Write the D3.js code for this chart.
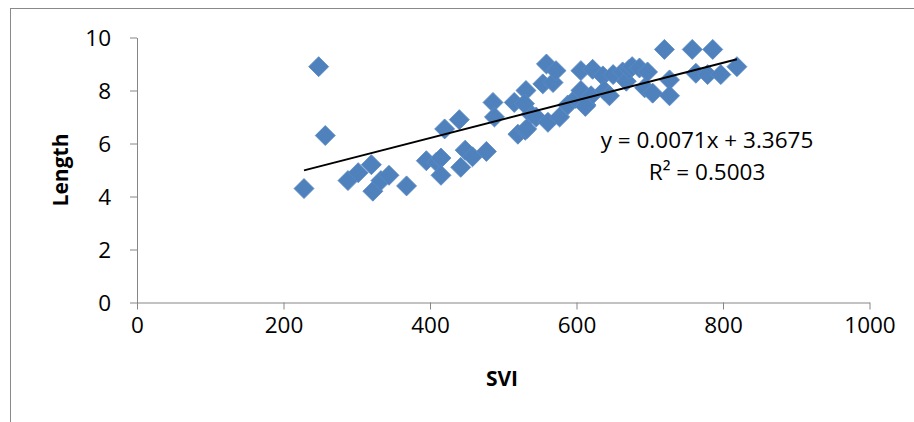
<!DOCTYPE html>
<html lang="en">
<head>
  <meta charset="utf-8">
  <title>SVI vs Length</title>
  <script src="https://cdn.jsdelivr.net/npm/d3@7"></script>
  <style>
    * { margin: 0; padding: 0; }
    body { background: #fff; }
    svg text { font-family: "Open Sans", sans-serif; fill: #000; }
  </style>
</head>
<body>
  <div id="chart"></div>
  <script>
    // data
    var svi = [228, 248, 257, 288, 302, 320, 322, 333, 344, 368,
               395, 409, 415, 415, 420, 440, 442, 448, 458, 477,
               486, 488, 515, 520, 530, 531, 538, 529, 545, 554,
               559, 561, 568, 572, 577, 588, 599, 606, 606, 613,
               620, 622, 636, 638, 645, 650, 663, 668, 672, 676,
               686, 693, 697, 704, 720, 727, 727, 758, 763, 779,
               786, 797, 819, 532, 612];
    var len = [4.3, 8.9, 6.3, 4.6, 4.9, 5.2, 4.2, 4.6, 4.8, 4.4,
               5.35, 5.3, 5.45, 4.8, 6.55, 6.9, 5.1, 5.75, 5.5, 5.7,
               7.55, 7.0, 7.55, 6.35, 6.5, 8.0, 7.1, 7.5, 7.0, 8.25,
               9.0, 6.8, 8.3, 8.75, 7.0, 7.45, 7.7, 8.75, 8.0, 7.45,
               7.8, 8.8, 8.55, 8.0, 7.8, 8.6, 8.7, 8.35, 8.8, 8.9,
               8.85, 8.1, 8.7, 7.9, 9.55, 8.4, 7.8, 9.55, 8.65, 8.6,
               9.55, 8.6, 8.9, 6.55, 7.4];
    var xTicks = [0, 200, 400, 600, 800, 1000];
    var yTicks = [0, 2, 4, 6, 8, 10];
    var slope = 0.0071, intercept = 3.3675, r2 = 0.5003;

    var width = 914, height = 422;
    var svg = d3.select("#chart").append("svg")
        .attr("width", width).attr("height", height);

    // outer chart frame (runs off right and bottom)
    svg.append("rect")
        .attr("x", 10.5).attr("y", 8.5)
        .attr("width", 1000).attr("height", 1000)
        .attr("fill", "none").attr("stroke", "#898989");

    var x = d3.scaleLinear().domain([0, 1000]).range([137, 869.5]);
    var y = d3.scaleLinear().domain([0, 10]).range([302.5, 37.5]);

    var axisColor = "#868686";

    var xAxis = svg.append("g")
        .attr("transform", "translate(0," + y(0) + ")")
        .call(d3.axisBottom(x).tickValues(xTicks).tickFormat(d3.format("d"))
          .tickSize(7).tickPadding(8).tickSizeOuter(0));
    var yAxis = svg.append("g")
        .attr("transform", "translate(" + x(0) + ",0)")
        .call(d3.axisLeft(y).tickValues(yTicks).tickSize(7).tickPadding(19).tickSizeOuter(0));

    [xAxis, yAxis].forEach(function(g) {
      g.select(".domain").attr("stroke", axisColor);
      g.selectAll(".tick line").attr("stroke", axisColor);
      g.selectAll(".tick text")
          .attr("font-size", "22.5px")
          .attr("font-family", "Open Sans, sans-serif")
          .attr("fill", "#000");
    });
    yAxis.selectAll(".tick text").attr("dy", "0.35em");

    // markers
    var pts = svi.map(function(v, i) { return [v, len[i]]; });
    var diamond = d3.symbol().type(d3.symbolSquare).size(200);
    svg.append("g").selectAll("path")
        .data(pts)
        .join("path")
        .attr("d", diamond)
        .attr("transform", function(d) {
          return "translate(" + x(d[0]) + "," + y(d[1]) + ") rotate(45)";
        })
        .attr("fill", "#4f81bd")
        .attr("stroke", "#5a8ac4")
        .attr("stroke-width", 0.8);

    // linear trendline
    var xMin = d3.min(svi), xMax = d3.max(svi);
    svg.append("line")
        .attr("x1", x(xMin)).attr("y1", y(slope * xMin + intercept))
        .attr("x2", x(xMax)).attr("y2", y(slope * xMax + intercept))
        .attr("stroke", "#000").attr("stroke-width", 2);

    svg.append("text")
        .attr("x", 707).attr("y", 148)
        .attr("text-anchor", "middle")
        .attr("font-size", "22.5px")
        .text("y = " + slope + "x + " + intercept);
    svg.append("text")
        .attr("x", 707).attr("y", 180)
        .attr("text-anchor", "middle")
        .attr("font-size", "22.5px")
        .text("R\u00b2 = " + r2.toFixed(4));

    // axis titles
    svg.append("text")
        .attr("x", 502).attr("y", 386)
        .attr("text-anchor", "middle")
        .attr("font-size", "21px")
        .attr("font-weight", "bold")
        .text("SVI");
    svg.append("text")
        .attr("transform", "translate(68,170) rotate(-90)")
        .attr("text-anchor", "middle")
        .attr("font-size", "21px")
        .attr("font-weight", "bold")
        .text("Length");
  </script>
</body>
</html>
